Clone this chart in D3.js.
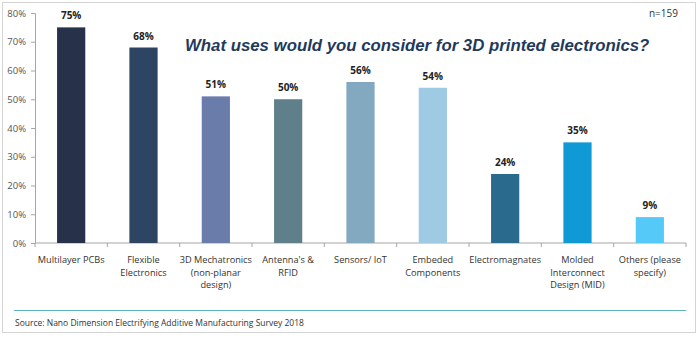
<!DOCTYPE html>
<html>
<head>
<meta charset="utf-8">
<script src="https://cdn.jsdelivr.net/npm/d3@7/dist/d3.min.js"></script>
<style>
  html, body { margin: 0; padding: 0; background: #fff; }
  svg { display: block; }
</style>
</head>
<body>
<svg id="chart" width="700" height="337"></svg>
<script>
// Survey answers: uses considered for 3D printed electronics
const categories = [
  ["Multilayer PCBs"],
  ["Flexible", "Electronics"],
  ["3D Mechatronics", "(non-planar", "design)"],
  ["Antenna's &", "RFID"],
  ["Sensors/ IoT"],
  ["Embeded", "Components"],
  ["Electromagnates"],
  ["Molded", "Interconnect", "Design (MID)"],
  ["Others (please", "specify)"]
];
const values = [75, 68, 51, 50, 56, 54, 24, 35, 9];
const barColors = ["#27324a", "#2d4562", "#6a7daa", "#5f7f8b", "#82a9bf",
                   "#9ecae4", "#2a6a8d", "#0f9ad6", "#55c9f7"];
const yTicks = [0, 10, 20, 30, 40, 50, 60, 70, 80];

const titleText = "What uses would you consider for 3D printed electronics?";
const sampleText = "n=159";
const sourceText = "Source: Nano Dimension Electrifying Additive Manufacturing Survey 2018";

const svg = d3.select("#chart");
const labelFont = "'Open Sans', 'Noto Sans', sans-serif";

// outer frame
svg.append("rect")
  .attr("x", 2.5).attr("y", 2.5)
  .attr("width", 693).attr("height", 330)
  .attr("fill", "none").attr("stroke", "#d4d4d4").attr("stroke-width", 1);

const plot = { left: 35, right: 686, top: 13, bottom: 243 };

const x = d3.scaleBand()
  .domain(d3.range(values.length))
  .range([plot.left, plot.right])
  .paddingInner(0.61)
  .paddingOuter(0.305);

const y = d3.scaleLinear()
  .domain([0, 80])
  .range([plot.bottom, plot.top]);

// y axis
const yAxis = svg.append("g")
  .attr("transform", `translate(${plot.left},0)`)
  .call(d3.axisLeft(y).tickValues(yTicks).tickFormat(d => d + "%").tickSize(4).tickPadding(5));
yAxis.select(".domain").attr("stroke", "#a6a6a6");
yAxis.selectAll(".tick line").attr("stroke", "#a6a6a6");
yAxis.selectAll(".tick text")
  .attr("fill", "#555").style("font-family", labelFont).style("font-size", "9.5px");

// x axis with tick marks at band edges
const xg = svg.append("g").attr("transform", `translate(0,${plot.bottom})`);
xg.append("line")
  .attr("x1", plot.left).attr("x2", plot.right)
  .attr("stroke", "#a6a6a6");
const edges = d3.range(values.length + 1).map(i => plot.left + i * (plot.right - plot.left) / values.length);
xg.selectAll(".edge").data(edges).join("line")
  .attr("class", "edge")
  .attr("x1", d => d).attr("x2", d => d)
  .attr("y1", 0).attr("y2", 4)
  .attr("stroke", "#a6a6a6");

// bars
svg.selectAll(".bar").data(values).join("rect")
  .attr("class", "bar")
  .attr("x", (d, i) => x(i))
  .attr("y", d => y(d))
  .attr("width", x.bandwidth())
  .attr("height", d => y(0) - y(d))
  .attr("fill", (d, i) => barColors[i]);

// value labels
svg.selectAll(".val").data(values).join("text")
  .attr("class", "val")
  .attr("x", (d, i) => x(i) + x.bandwidth() / 2)
  .attr("y", d => y(d) - 8)
  .attr("text-anchor", "middle")
  .attr("fill", "#222")
  .style("font-family", labelFont)
  .style("font-size", "10px")
  .style("font-weight", "bold")
  .text(d => d + "%");

// category labels
svg.selectAll(".cat").data(categories).join("text")
  .attr("class", "cat")
  .attr("text-anchor", "middle")
  .attr("fill", "#333")
  .style("font-family", labelFont)
  .style("font-size", "9.2px")
  .each(function(lines, i) {
    d3.select(this).selectAll("tspan").data(lines).join("tspan")
      .attr("x", x(i) + x.bandwidth() / 2)
      .attr("y", (d, j) => 263 + j * 12.7)
      .text(d => d);
  });

// title
svg.append("text")
  .attr("x", 185).attr("y", 51)
  .attr("fill", "#1f3a5c")
  .style("font-family", "'Liberation Sans', Arial, sans-serif")
  .style("font-size", "16.8px")
  .style("font-weight", "bold")
  .style("font-style", "italic")
  .text(titleText);

// sample size
svg.append("text")
  .attr("x", 678).attr("y", 17)
  .attr("text-anchor", "end")
  .attr("fill", "#333")
  .style("font-family", labelFont)
  .style("font-size", "10px")
  .text(sampleText);

// footer rule and source
svg.append("line")
  .attr("x1", 14).attr("x2", 686)
  .attr("y1", 310.5).attr("y2", 310.5)
  .attr("stroke", "#5fb3c4").attr("stroke-width", 1);
svg.append("text")
  .attr("x", 15).attr("y", 326)
  .attr("fill", "#333")
  .style("font-family", labelFont)
  .style("font-size", "8.5px")
  .text(sourceText);
</script>
</body>
</html>
